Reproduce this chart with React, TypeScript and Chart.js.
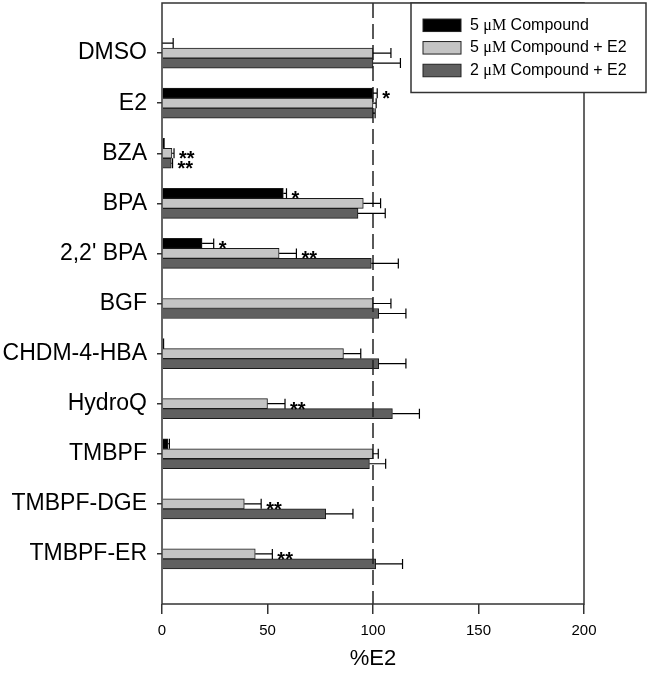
import React, { useEffect, useRef } from 'react';
import { Chart, registerables } from 'chart.js';

Chart.register(...registerables);

const categories = ['DMSO', 'E2', 'BZA', 'BPA', "2,2' BPA", 'BGF', 'CHDM-4-HBA', 'HydroQ', 'TMBPF', 'TMBPF-DGE', 'TMBPF-ER'];
const seriesNames = ['5 μM Compound', '5 μM Compound + E2', '2 μM Compound + E2'];

const compound5: (number | null)[] = [0, 100, 1.2, 57.5, 19, null, 1, null, 2.8, null, null];
const compound5E2: (number | null)[] = [100, 100, 4.7, 95.4, 55.5, 100, 86, 50, 100, 39, 44.2];
const compound2E2: (number | null)[] = [100, 100, 4.4, 92.9, 99.2, 102.7, 102.7, 109.2, 98.3, 77.6, 101.3];

const err5: (number | null)[] = [5.3, 2, 0, 1.5, 5.5, null, 0, null, 0.7, null, null];
const err5E2: (number | null)[] = [8.5, 1.5, 1, 8.2, 8.2, 8.5, 8.2, 8.3, 2.5, 8, 8.1];
const err2E2: (number | null)[] = [13, 1, 0.6, 12.9, 12.8, 12.9, 12.9, 12.8, 7.7, 12.9, 12.7];

const sig5 = ['', '*', '', '*', '*', '', '', '', '', '', ''];
const sig5E2 = ['', '', '**', '', '**', '', '', '**', '', '**', '**'];
const sig2E2 = ['', '', '**', '', '', '', '', '', '', '', ''];

const xTicks = [0, 50, 100, 150, 200];
const referenceValue = 100;
const xTitle = '%E2';

const colors = ['#000000', '#c4c4c4', '#606060'];
const FONT = "'Liberation Sans', Arial, sans-serif";
const SERIF = "'Liberation Serif', 'Times New Roman', serif";

export default function App() {
  const ref = useRef<HTMLCanvasElement>(null);

  useEffect(() => {
    if (!ref.current) return;
    const pad = (a: (number | null)[]) => [null, ...a, null];
    const labels = ['', ...categories, ''];
    const errs = [err5, err5E2, err2E2];
    const sigs = [sig5, sig5E2, sig2E2];
    const values = [compound5, compound5E2, compound2E2];

    const custom = {
      id: 'custom',
      afterDatasetsDraw(chart: any) {
        const { ctx, chartArea: a } = chart;
        const x = chart.scales.x;
        ctx.save();
        ctx.strokeStyle = '#222';
        ctx.lineWidth = 1.5;
        ctx.setLineDash([15, 6]);
        const xr = x.getPixelForValue(referenceValue);
        ctx.beginPath();
        ctx.moveTo(xr, a.top);
        ctx.lineTo(xr, a.bottom);
        ctx.stroke();
        ctx.setLineDash([]);

        chart.data.datasets.forEach((ds: any, di: number) => {
          const meta = chart.getDatasetMeta(di);
          meta.data.forEach((bar: any, i: number) => {
            const ci = i - 1;
            if (ci < 0 || ci >= categories.length) return;
            const v = values[di][ci];
            if (v == null) return;
            const e = errs[di][ci] || 0;
            const y = bar.y;
            const h = bar.height;
            const x0 = x.getPixelForValue(v);
            const x1 = x.getPixelForValue(v + e);
            ctx.strokeStyle = '#000';
            ctx.lineWidth = 1.2;
            if (e > 0) {
              ctx.beginPath();
              ctx.moveTo(x0, y);
              ctx.lineTo(x1, y);
              ctx.moveTo(x1, y - h / 2);
              ctx.lineTo(x1, y + h / 2);
              ctx.stroke();
            }
            const s = sigs[di][ci];
            if (s) {
              ctx.fillStyle = '#000';
              ctx.font = `bold 20px ${FONT}`;
              ctx.textAlign = 'left';
              ctx.textBaseline = 'alphabetic';
              ctx.fillText(s, x1 + 5, y + 12);
            }
          });
        });

        ctx.strokeStyle = '#333';
        ctx.lineWidth = 1.5;
        ctx.strokeRect(a.left, a.top, a.right - a.left, a.bottom - a.top);
        ctx.restore();
      },
      afterDraw(chart: any) {
        const { ctx } = chart;
        ctx.save();
        const bx = 411, by = 3, bw = 235, bh = 89.5;
        ctx.fillStyle = '#fff';
        ctx.fillRect(bx, by, bw, bh);
        ctx.strokeStyle = '#333';
        ctx.lineWidth = 1.5;
        ctx.strokeRect(bx, by, bw, bh);
        const rows = [25.3, 47.8, 70.5];
        seriesNames.forEach((name, i) => {
          const cy = rows[i];
          ctx.fillStyle = colors[i];
          ctx.fillRect(423, cy - 6.25, 38, 12.5);
          ctx.strokeStyle = '#222';
          ctx.lineWidth = 1;
          ctx.strokeRect(423, cy - 6.25, 38, 12.5);
          ctx.fillStyle = '#000';
          ctx.textBaseline = 'middle';
          ctx.textAlign = 'left';
          const parts = name.split('μM');
          let tx = 470;
          ctx.font = `16px ${FONT}`;
          ctx.fillText(parts[0], tx, cy);
          tx += ctx.measureText(parts[0]).width;
          ctx.font = `16px ${SERIF}`;
          ctx.fillText('μM', tx, cy);
          tx += ctx.measureText('μM').width;
          ctx.font = `16px ${FONT}`;
          ctx.fillText(parts[1], tx, cy);
        });
        ctx.restore();
      },
    };

    const lastIndex = labels.length - 1;
    const chart = new Chart(ref.current, {
      type: 'bar',
      data: {
        labels,
        datasets: values.map((vals, i) => ({
          label: seriesNames[i],
          data: pad(vals),
          backgroundColor: colors[i],
          borderColor: '#1a1a1a',
          borderWidth: 1,
          barThickness: 10,
        })),
      },
      options: {
        indexAxis: 'y',
        responsive: false,
        animation: false,
        devicePixelRatio: 1,
        layout: { padding: { top: 3, right: 64, left: 0, bottom: 0 } },
        plugins: { legend: { display: false }, tooltip: { enabled: false } },
        scales: {
          x: {
            type: 'linear',
            min: xTicks[0],
            max: xTicks[xTicks.length - 1],
            afterBuildTicks: (scale: any) => {
              scale.ticks = xTicks.map((v) => ({ value: v }));
            },
            afterFit: (scale: any) => {
              scale.height = 69;
              scale.paddingLeft = 0;
              scale.paddingRight = 0;
            },
            grid: { drawOnChartArea: false, drawTicks: true, tickLength: 10, color: '#333', lineWidth: 1.5 },
            border: { display: false },
            ticks: { color: '#000', font: { family: FONT, size: 15 }, padding: 8 },
            title: { display: true, text: xTitle, color: '#000', font: { family: FONT, size: 22 }, padding: { top: 0, bottom: 1 } },
          },
          y: {
            type: 'category',
            offset: false,
            afterFit: (scale: any) => {
              scale.width = 162;
              scale.paddingTop = 0;
              scale.paddingBottom = 0;
            },
            grid: {
              offset: false,
              drawOnChartArea: false,
              drawTicks: true,
              tickLength: 5,
              lineWidth: 1.5,
              tickColor: (c: any) => (c.index === 0 || c.index === lastIndex ? 'rgba(0,0,0,0)' : '#333'),
            },
            border: { display: false },
            ticks: { color: '#000', font: { family: FONT, size: 23 }, padding: 10, autoSkip: false },
          },
        },
      },
      plugins: [custom],
    });
    return () => chart.destroy();
  }, []);

  return (
    <div style={{ position: 'absolute', left: 0, top: 0, width: 648, height: 673, background: '#fff' }}>
      <canvas ref={ref} width={648} height={673} style={{ width: 648, height: 673, display: 'block' }} />
    </div>
  );
}
